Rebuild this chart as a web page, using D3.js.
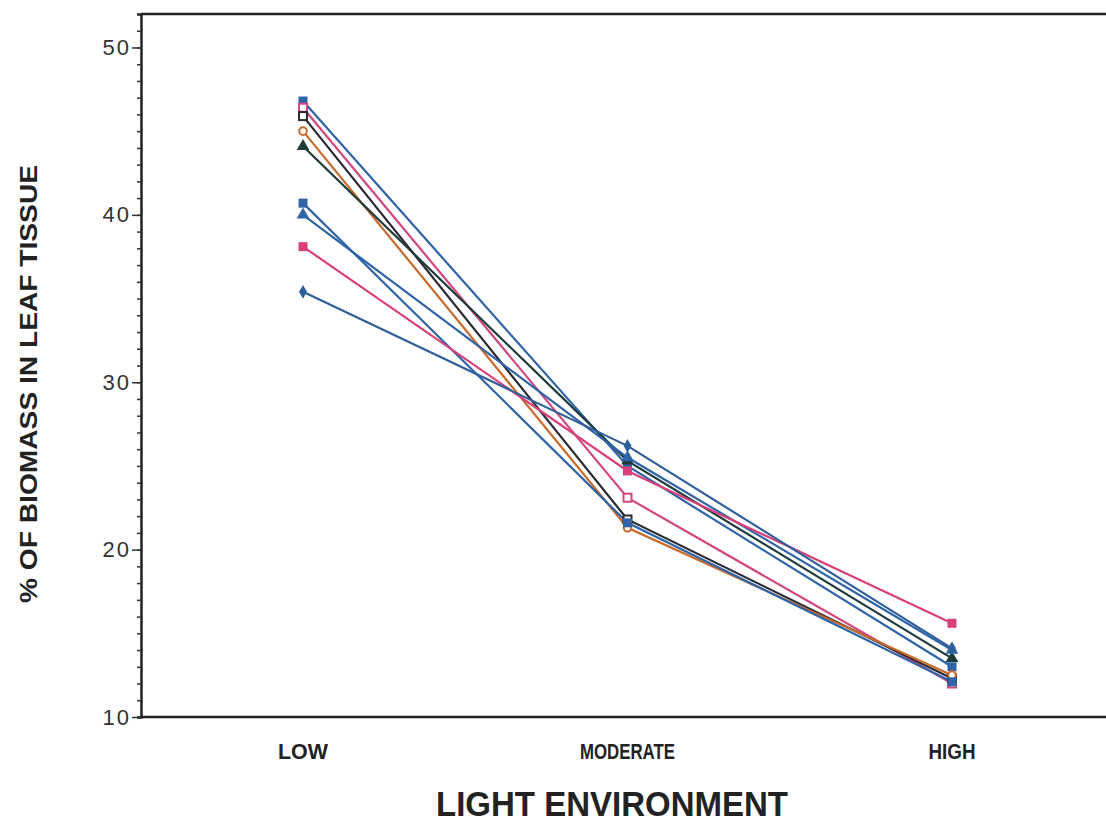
<!DOCTYPE html>
<html><head><meta charset="utf-8">
<script src="https://cdn.jsdelivr.net/npm/d3@7"></script>
<style>body{margin:0;background:#fff}</style>
</head><body>
<svg id="c" width="1106" height="827"></svg>
<script>
const categories = ["LOW", "MODERATE", "HIGH"];
const yTicks = [10, 20, 30, 40, 50];
const seriesNames = ["s1","s2","s3","s4","s5","s6","s7","s8","s9"];
const seriesValues = [
  [46.8, 25.0, 13.0],
  [46.4, 23.1, 12.0],
  [45.9, 21.8, 12.3],
  [45.0, 21.3, 12.5],
  [44.1, 25.3, 13.5],
  [40.7, 21.6, 12.1],
  [40.0, 25.5, 14.0],
  [38.1, 24.7, 15.6],
  [35.4, 26.2, 14.1]
];
const seriesColors = ["#2f64a8","#d2487e","#2a2a33","#c86a2a","#1f3a3a","#2f64a8","#2f64a8","#d8407a","#2f5f9a"];
const seriesMarkers = ["sqf","sqo","sqo","circ","tri","sqf","tri","sqf","dia"];

const svg = d3.select("#c");
const x = d3.scalePoint().domain(categories).range([303, 952]);
const y = d3.scaleLinear().domain([10, 52]).range([717, 14]);

// frame
svg.append("line").attr("x1",141).attr("x2",1106).attr("y1",y(52)).attr("y2",y(52)).attr("stroke","#222").attr("stroke-width",2.5);
svg.append("line").attr("x1",141).attr("x2",1106).attr("y1",y(10)).attr("y2",y(10)).attr("stroke","#222").attr("stroke-width",2.5);

// y axis
const yAxisG = svg.append("g").attr("transform","translate(141,0)");
yAxisG.call(d3.axisLeft(y).tickValues(d3.range(10, 52, 1)).tickSize(4).tickFormat(""));
yAxisG.call(g => g.selectAll(".tick line").attr("stroke","#333").attr("stroke-width",1.5));
yAxisG.call(g => g.select(".domain").attr("stroke","#222").attr("stroke-width",2.5));
const yMajor = svg.append("g").attr("transform","translate(141,0)");
yMajor.call(d3.axisLeft(y).tickValues(yTicks).tickSize(9).tickPadding(1));
yMajor.select(".domain").remove();
yMajor.selectAll(".tick line").attr("stroke","#333").attr("stroke-width",1.5);
yMajor.selectAll(".tick text").attr("font-family","Liberation Sans, Arial, sans-serif").attr("font-size",22).attr("letter-spacing","2px").attr("fill","#333");

// x labels
const xLabelLen = {"LOW": 50, "MODERATE": 95, "HIGH": 47};
svg.append("g").selectAll("text").data(categories).join("text")
  .attr("x", d => x(d)).attr("y", 759)
  .attr("text-anchor","middle")
  .attr("font-family","Liberation Sans, Arial, sans-serif").attr("font-weight","bold")
  .attr("font-size",22).attr("fill","#222")
  .attr("textLength", d => xLabelLen[d]).attr("lengthAdjust","spacingAndGlyphs")
  .text(d => d);

// titles
svg.append("text").attr("x", 612).attr("y", 816).attr("text-anchor","middle")
  .attr("font-family","Liberation Sans, Arial, sans-serif").attr("font-weight","bold")
  .attr("font-size",35).attr("fill","#222")
  .attr("textLength",352).attr("lengthAdjust","spacingAndGlyphs")
  .text("LIGHT ENVIRONMENT");
svg.append("text").attr("transform","translate(37,384) rotate(-90)").attr("text-anchor","middle")
  .attr("font-family","Liberation Sans, Arial, sans-serif").attr("font-weight","bold")
  .attr("font-size",24).attr("fill","#222")
  .attr("textLength",438).attr("lengthAdjust","spacingAndGlyphs")
  .text("% OF BIOMASS IN LEAF TISSUE");

// lines
const line = d3.line().x((d,i) => x(categories[i])).y(d => y(d));
const gs = svg.append("g");
seriesValues.forEach((vals, si) => {
  gs.append("path").attr("d", line(vals)).attr("fill","none")
    .attr("stroke", seriesColors[si]).attr("stroke-width", 2.2);
});
// markers
seriesValues.forEach((vals, si) => {
  const c = seriesColors[si], m = seriesMarkers[si];
  vals.forEach((v, i) => {
    const cx = x(categories[i]), cy = y(v);
    if (m === "sqf") svg.append("rect").attr("x",cx-4.5).attr("y",cy-4.5).attr("width",9).attr("height",9).attr("fill",c);
    else if (m === "sqo") svg.append("rect").attr("x",cx-4).attr("y",cy-4).attr("width",8).attr("height",8).attr("fill","#fff").attr("stroke",c).attr("stroke-width",2);
    else if (m === "circ") svg.append("circle").attr("cx",cx).attr("cy",cy).attr("r",3.8).attr("fill","#fff").attr("stroke",c).attr("stroke-width",2);
    else if (m === "tri") svg.append("path").attr("d", d3.symbol(d3.symbolTriangle, 70)()).attr("transform",`translate(${cx},${cy})`).attr("fill",c);
    else if (m === "dia") svg.append("path").attr("d", d3.symbol(d3.symbolDiamond, 55)()).attr("transform",`translate(${cx},${cy})`).attr("fill",c);
  });
});
</script>
</body></html>
